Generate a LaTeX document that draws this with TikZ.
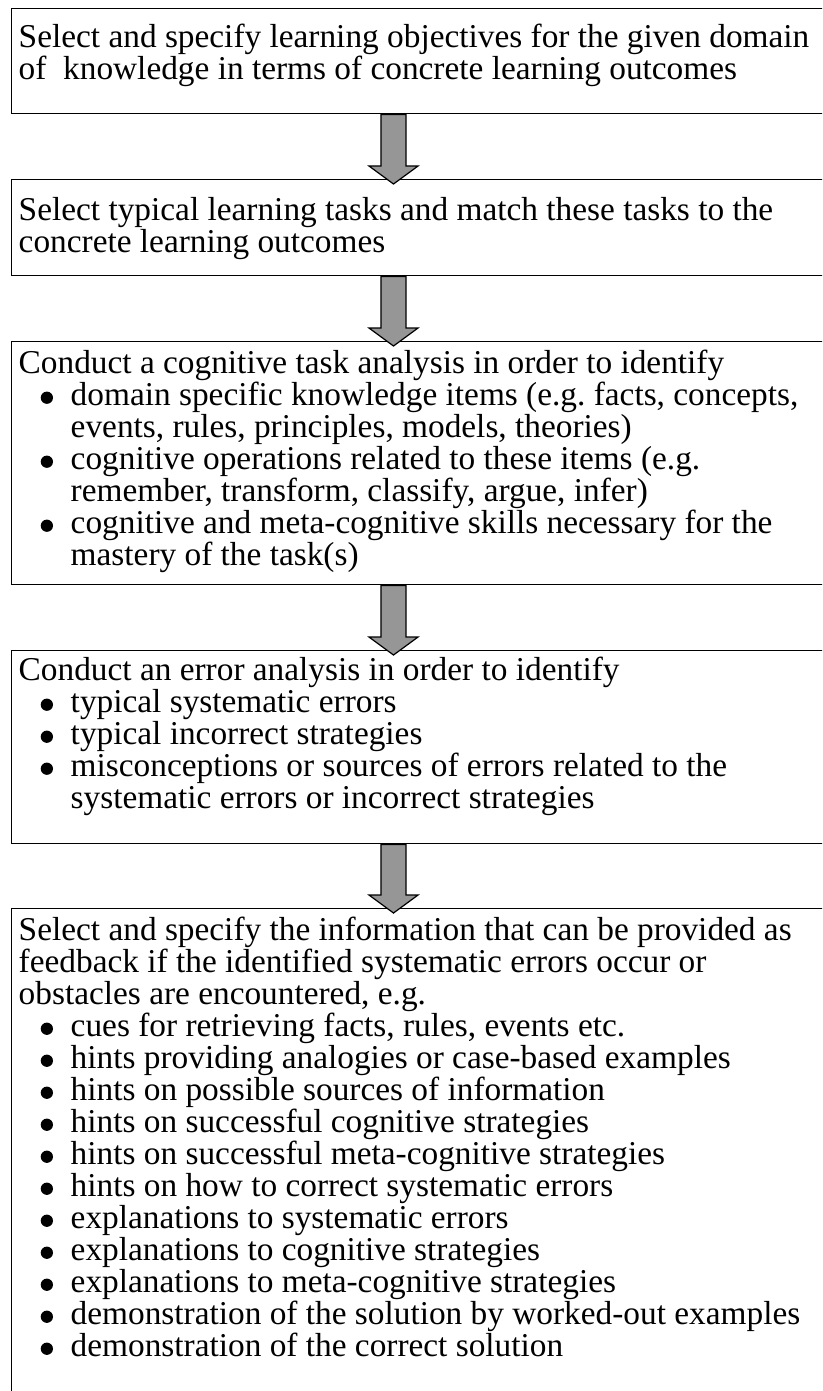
\documentclass[tikz,border=0pt]{standalone}
\usepackage{fontspec}
\setmainfont{Liberation Serif}
\usetikzlibrary{calc}
\newlength\unitpx
\setlength\unitpx{0.75pt}
\definecolor{arrowgray}{RGB}{150,150,150}
% text of one box: height, first baseline, content
\newcommand{\stagetext}[3]{\parbox[t][#1\unitpx][t]{620pt}{\raggedright\frenchspacing\rule{0pt}{#2\unitpx}#3}}
\newcommand{\stagebullet}{\tikz[baseline=0pt]\fill (0pt,6pt) circle (4.6pt);}
\newcommand{\stageitem}{\par\hangindent=52\unitpx\hangafter=1\noindent\makebox[52\unitpx][l]{\hspace{22\unitpx}\stagebullet}\ignorespaces}
% block arrow from the bottom of one box to the top of the next
\newcommand{\stagearrow}[2]{%
  \draw[flow] let \p1=($(#1.south west)+(382.5,0)$), \p2=($(#2.north west)+(382.5,0)$) in
    (\x1-9.4pt,\y1) -- (\x1-9.4pt,\y2+9.75pt) -- (\x1-18.4pt,\y2+9.75pt) -- (\x1,\y2-3.75pt)
    -- (\x1+18.4pt,\y2+9.75pt) -- (\x1+9.4pt,\y2+9.75pt) -- (\x1+9.4pt,\y1) -- cycle;}
\tikzset{
  stage/.style={draw, line width=1.1pt, anchor=north west, inner xsep=5.25pt, inner ysep=0pt,
    font=\fontsize{25}{24}\selectfont},
  flow/.style={draw=black, fill=arrowgray, line width=0.9pt, line join=miter}
}
\begin{document}
\begin{tikzpicture}[x=0.75pt,y=-0.75pt]
        \useasboundingbox (0,0) rectangle (822,1391);
        \fill[white] (0,0) rectangle (822,1391);
        \clip (0,0) rectangle (822,1391);
        % boxes
        \node[stage] (objectives) at (11,8) {\stagetext{105}{39}{Select and specify learning objectives for the given domain\newline of~ knowledge in terms of concrete learning outcomes}};
        \node[stage] (tasks) at (11,179) {\stagetext{96}{41}{Select typical learning tasks and match these tasks to the\newline concrete learning outcomes}};
        \node[stage] (taskanalysis) at (11,341) {\stagetext{243}{32}{Conduct a cognitive task analysis in order to identify
          \stageitem domain specific knowledge items (e.g. facts, concepts,\newline events, rules, principles, models, theories)
          \stageitem cognitive operations related to these items (e.g.\newline remember, transform, classify, argue, infer)
          \stageitem cognitive and meta-cognitive skills necessary for the\newline mastery of the task(s)}};
        \node[stage] (erroranalysis) at (11,650) {\stagetext{193}{30}{Conduct an error analysis in order to identify
          \stageitem typical systematic errors
          \stageitem typical incorrect strategies
          \stageitem misconceptions or sources of errors related to the\newline systematic errors or incorrect strategies}};
        \node[stage] (feedback) at (11,908) {\stagetext{520}{32}{Select and specify the information that can be provided as\newline feedback if the identified systematic errors occur or\newline obstacles are encountered, e.g.
          \stageitem cues for retrieving facts, rules, events etc.
          \stageitem hints providing analogies or case-based examples
          \stageitem hints on possible sources of information
          \stageitem hints on successful cognitive strategies
          \stageitem hints on successful meta-cognitive strategies
          \stageitem hints on how to correct systematic errors
          \stageitem explanations to systematic errors
          \stageitem explanations to cognitive strategies
          \stageitem explanations to meta-cognitive strategies
          \stageitem demonstration of the solution by worked-out examples
          \stageitem demonstration of the correct solution}};
        % arrows
        \stagearrow{objectives}{tasks}
        \stagearrow{tasks}{taskanalysis}
        \stagearrow{taskanalysis}{erroranalysis}
        \stagearrow{erroranalysis}{feedback}
\end{tikzpicture}
\end{document}
